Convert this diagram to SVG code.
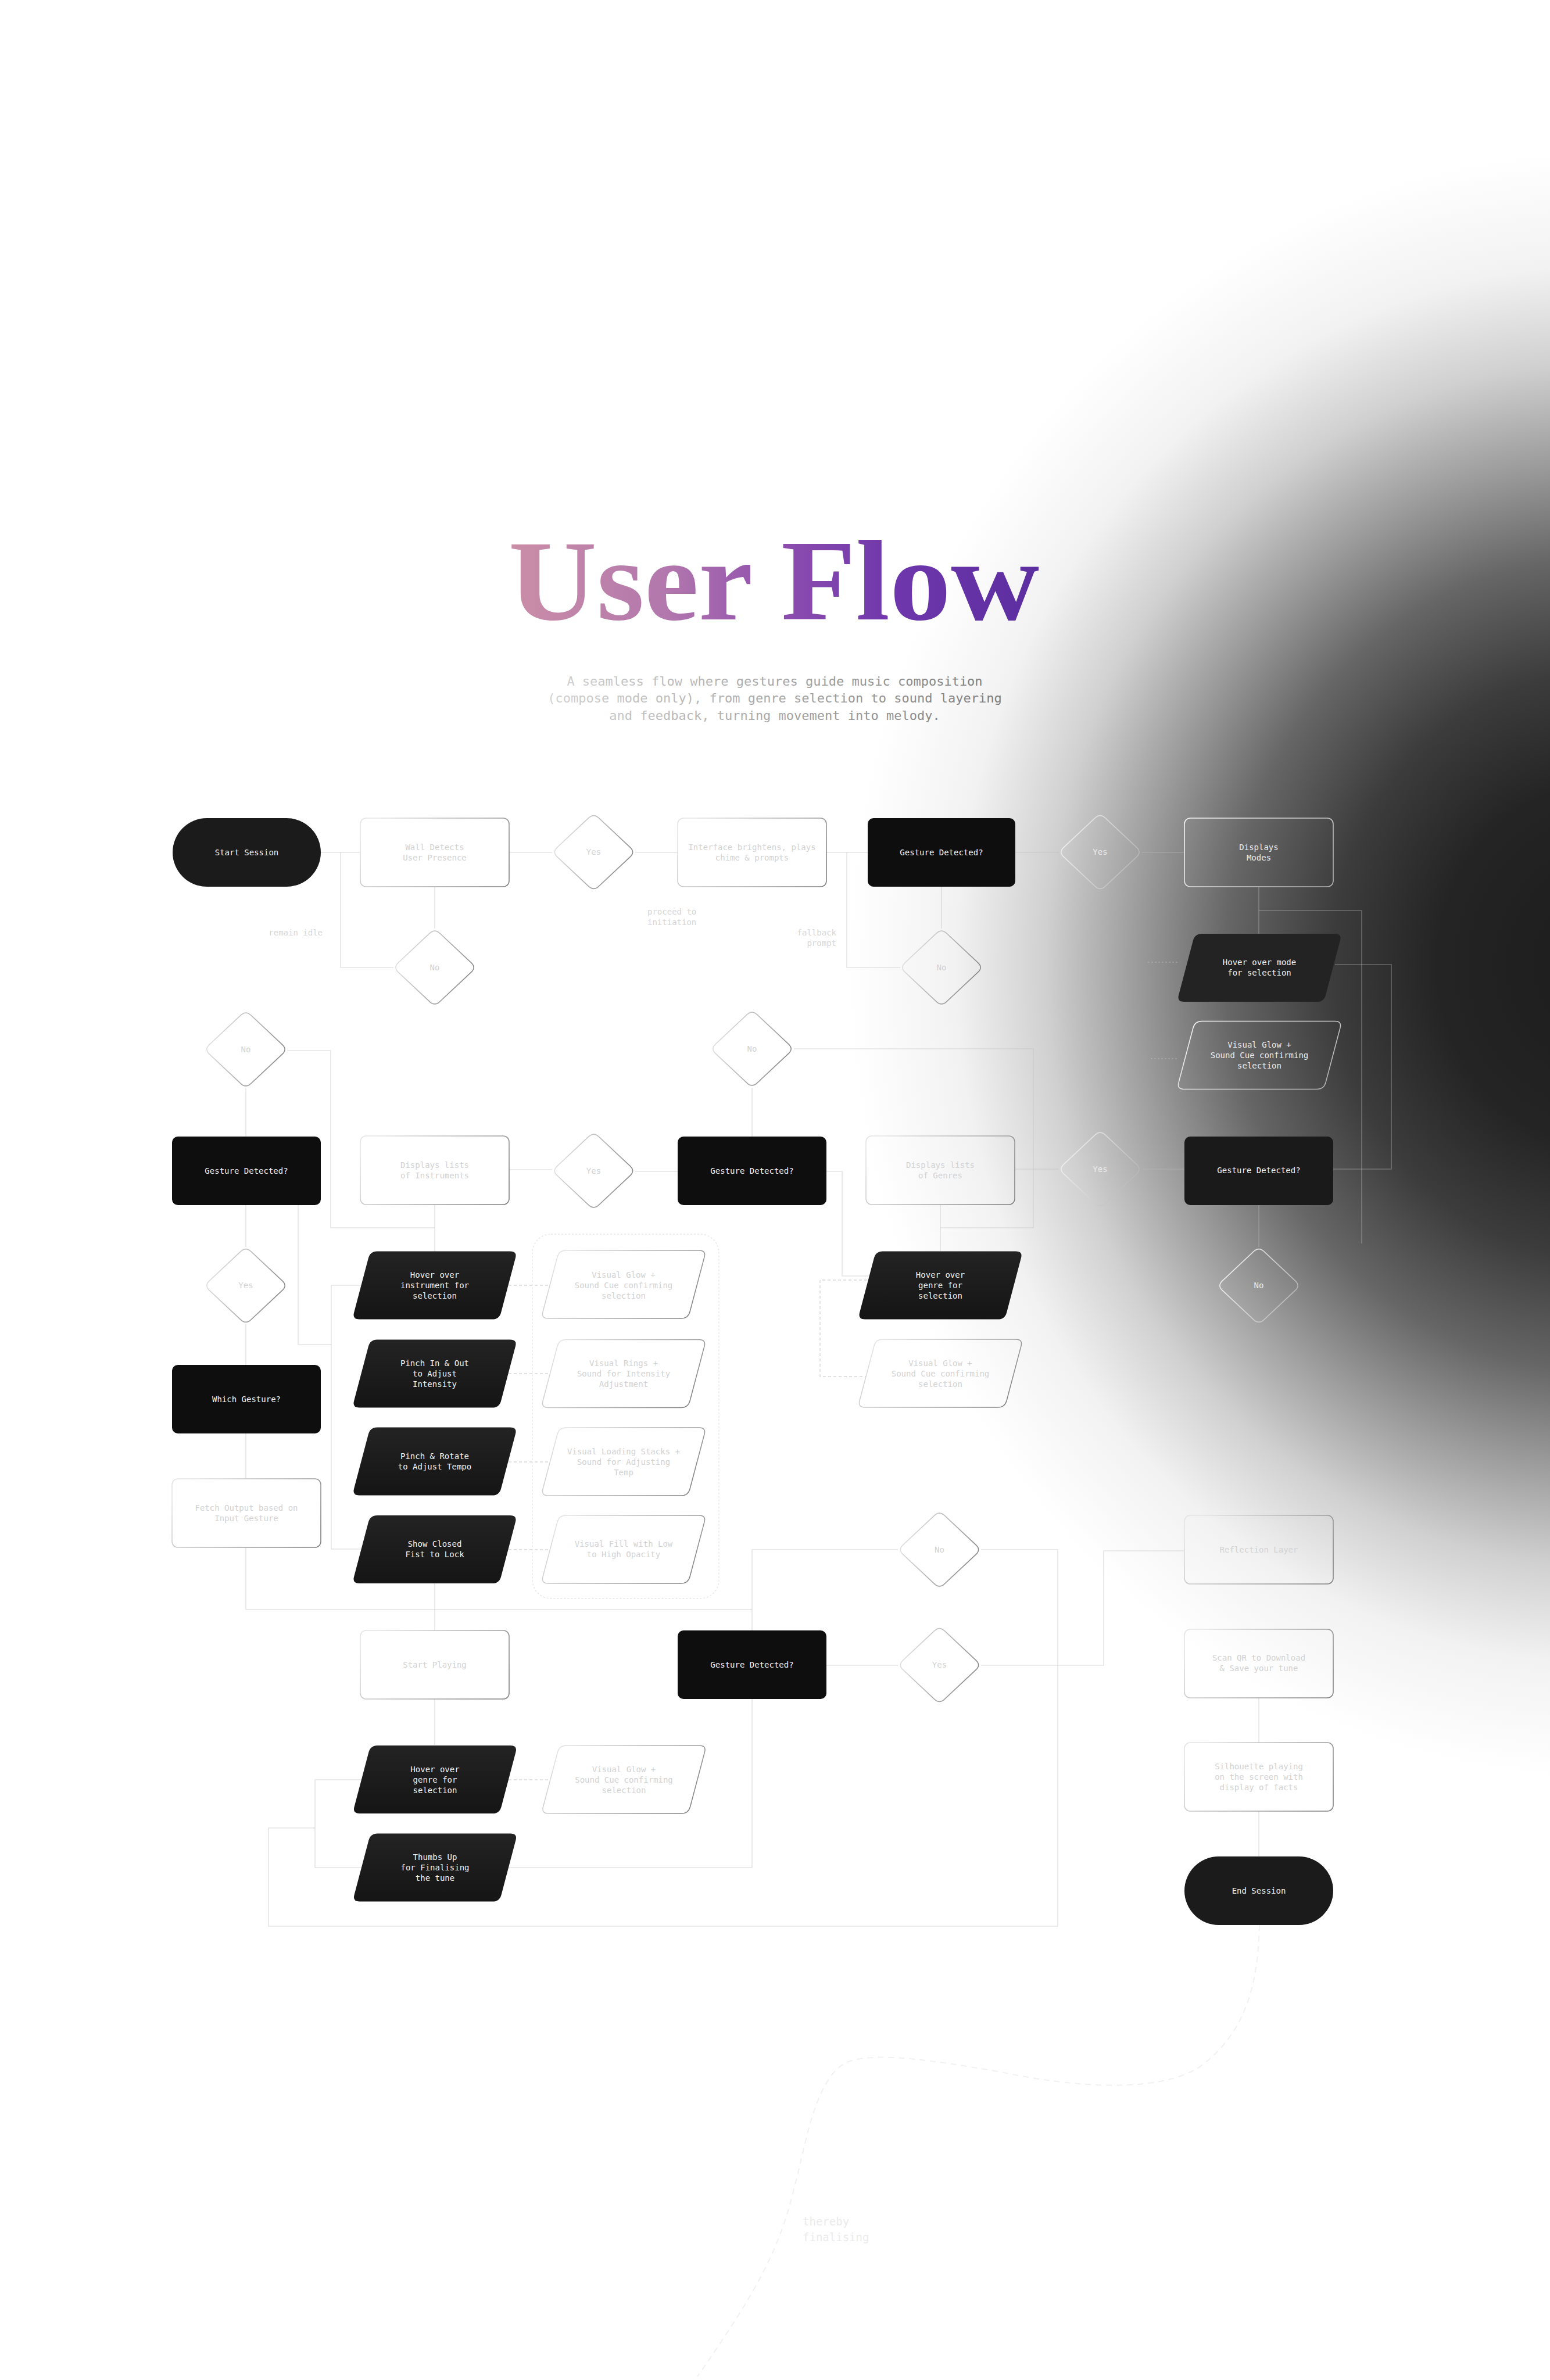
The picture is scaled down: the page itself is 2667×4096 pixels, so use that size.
<svg xmlns="http://www.w3.org/2000/svg" xmlns:xlink="http://www.w3.org/1999/xlink" width="2667" height="4096" viewBox="0 0 2667 4096">
<defs>
<radialGradient id="bgG" gradientUnits="userSpaceOnUse" cx="0" cy="0" r="1" gradientTransform="translate(2760 1660) scale(1300 1400)">
<stop offset="0" stop-color="#1c1c1c"/>
<stop offset="0.22" stop-color="#242424"/>
<stop offset="0.36" stop-color="#3c3c3c"/>
<stop offset="0.5" stop-color="#666666"/>
<stop offset="0.62" stop-color="#9c9c9c"/>
<stop offset="0.74" stop-color="#d0d0d0"/>
<stop offset="0.86" stop-color="#f2f2f2"/>
<stop offset="1" stop-color="#ffffff"/>
</radialGradient>
<linearGradient id="titleG" gradientUnits="userSpaceOnUse" x1="875" y1="0" x2="1790" y2="0">
<stop offset="0" stop-color="#cb8ea7"/>
<stop offset="0.3" stop-color="#b277ad"/>
<stop offset="0.5" stop-color="#8f4fae"/>
<stop offset="0.72" stop-color="#6f37ac"/>
<stop offset="1" stop-color="#5b2ea0"/>
</linearGradient>
<linearGradient id="subG" gradientUnits="userSpaceOnUse" x1="930" y1="1160" x2="1730" y2="1240">
<stop offset="0" stop-color="#d4d4d4"/>
<stop offset="1" stop-color="#7a7a7a"/>
</linearGradient>
<linearGradient id="strokeL" x1="0" y1="0.3" x2="1" y2="0.7">
<stop offset="0" stop-color="#e4e4e4"/>
<stop offset="1" stop-color="#828282"/>
</linearGradient>
<linearGradient id="strokeG" x1="0" y1="0.3" x2="1" y2="0.7">
<stop offset="0" stop-color="#f2f2f2"/>
<stop offset="1" stop-color="#b4b4b4"/>
</linearGradient>
<linearGradient id="paraG" x1="0" y1="0" x2="0" y2="1">
<stop offset="0" stop-color="#232323"/>
<stop offset="1" stop-color="#151515"/>
</linearGradient>
<path id="dia" d="M-8.7,-58.8 Q0,-67 8.7,-58.8 L62.8,-8.2 Q71.5,0 62.8,8.2 L8.7,58.8 Q0,67 -8.7,58.8 L-62.8,8.2 Q-71.5,0 -62.8,-8.2 Z"/>
<path id="para" d="M-99,-58.5 L130,-58.5 Q142,-58.5 138.9,-46.9 L114.1,46.9 Q111,58.5 99,58.5 L-130,58.5 Q-142,58.5 -138.9,46.9 L-114.1,-46.9 Q-111,-58.5 -99,-58.5 Z"/>
<style>
.t{font-family:"DejaVu Sans Mono","Liberation Mono",monospace;font-size:14px;text-anchor:middle}
.tw{fill:#f2f2f2}
.tl{fill:#d2d2d2}
.tg{fill:#ececec}
.lab{font-family:"DejaVu Sans Mono","Liberation Mono",monospace;font-size:14px;fill:#d6d6d6}
.c{fill:none;stroke:rgba(188,188,188,0.4);stroke-width:1.6}
.cd{fill:none;stroke:#d8d8d8;stroke-width:1.4;stroke-dasharray:5 4}
.cdd{fill:none;stroke:rgba(200,200,200,0.45);stroke-width:1.4;stroke-dasharray:3 3}
.ol{fill:none;stroke:url(#strokeL);stroke-width:1.6}
.og{fill:none;stroke:url(#strokeG);stroke-width:1.6}
.blk{fill:#0e0e0e}
.pill{fill:#1b1b1b}
.pb{fill:url(#paraG)}
</style>
</defs>

<rect x="0" y="0" width="2667" height="4096" fill="#ffffff"/>
<rect x="0" y="0" width="2667" height="4096" fill="url(#bgG)"/>

<g id="title">
<text x="875" y="1066" font-family="'Liberation Serif','DejaVu Serif',serif" font-weight="700" font-size="198" textLength="913" lengthAdjust="spacingAndGlyphs" fill="url(#titleG)">User Flow</text>
</g>
<g id="subtitle" font-family="'DejaVu Sans Mono','Liberation Mono',monospace" font-size="22" text-anchor="middle" fill="url(#subG)">
<text x="1333" y="1180">A seamless flow where gestures guide music composition</text>
<text x="1333" y="1209">(compose mode only), from genre selection to sound layering</text>
<text x="1333" y="1239">and feedback, turning movement into melody.</text>
</g>

<g id="connectors">
<path class="c" d="M552 1467 H620"/>
<path class="c" d="M586 1467 V1665 H677"/>
<path class="c" d="M748 1527 V1598"/>
<path class="c" d="M876 1467 H950"/>
<path class="c" d="M1093 1467 H1166"/>
<path class="c" d="M1422 1467 H1493"/>
<path class="c" d="M1457 1467 V1665 H1549"/>
<path class="c" d="M1620 1526 V1598"/>
<path class="c" d="M1747 1467 H1822"/>
<path class="c" d="M1965 1467 H2038"/>
<path class="c" d="M2166 1526 V1607"/>
<path class="c" d="M2166 1567 H2343 V2140"/>
<path class="c" d="M2297 1660 H2394 V2012 H2294"/>
<path class="cdd" d="M1975 1656 H2028"/>
<path class="cdd" d="M1980 1822 H2027"/>
<path class="c" d="M494 1808 H569 V2113 H748"/>
<path class="c" d="M423 1873 V1956"/>
<path class="c" d="M748 2073 V2154"/>
<path class="c" d="M876 2013 H950"/>
<path class="c" d="M1093 2016 H1166"/>
<path class="c" d="M1294 1872 V1956"/>
<path class="c" d="M1366 1805 H1778 V2113 H1618"/>
<path class="c" d="M1618 2073 V2153"/>
<path class="c" d="M1422 2016 H1449 V2196 H1496"/>
<path class="c" d="M1747 2012 H1821"/>
<path class="c" d="M1965 2012 H2038"/>
<path class="c" d="M2166 2074 V2146"/>
<path class="c" d="M423 2074 V2146"/>
<path class="c" d="M423 2279 V2349"/>
<path class="c" d="M423 2467 V2545"/>
<path class="c" d="M513 2074 V2314 H570"/>
<path class="c" d="M622 2212 H570 V2666 H622"/>
<path class="c" d="M423 2663 V2770 H1294"/>
<path class="c" d="M1545 2667 H1294 V2806"/>
<path class="c" d="M748 2725 V2806"/>
<path class="c" d="M748 2924 V3003"/>
<path class="c" d="M1422 2866 H1545"/>
<path class="c" d="M1688 2866 H1899 V2669 H2038"/>
<path class="c" d="M1688 2667 H1820 V3315 H462 V3146 H542"/>
<path class="c" d="M1294 2924 V3214 H542 V3063 H622"/>
<path class="c" d="M2166 2921 V3000"/>
<path class="c" d="M2166 3117 V3195"/>
<path class="cd" d="M875 2212 H946"/>
<path class="cd" d="M875 2364 H946"/>
<path class="cd" d="M875 2516 H946"/>
<path class="cd" d="M875 2667 H946"/>
<path class="cd" d="M875 3063 H946"/>
<path class="cd" d="M1492 2203 H1411 V2369 H1490"/>
<rect x="916" y="2124" width="321" height="627" rx="32" fill="none" stroke="#e6e6e6" stroke-width="1.4" stroke-dasharray="3 3"/>
<path d="M2167 3313 C2165 3420 2140 3505 2060 3560 C1990 3600 1860 3595 1717 3565 C1600 3545 1500 3530 1455 3550 C1400 3580 1385 3700 1366 3767 C1340 3880 1290 3960 1200 4090" fill="none" stroke="#f1f1f1" stroke-width="2" stroke-dasharray="10 8"/>
</g>

<g id="labels" class="lab">
<text x="555" y="1610" text-anchor="end">remain idle</text>
<text x="1114" y="1574">proceed to</text>
<text x="1114" y="1592">initiation</text>
<text x="1439" y="1610" text-anchor="end">fallback</text>
<text x="1439" y="1628" text-anchor="end">prompt</text>
<text x="1381" y="3830" font-size="19" fill="#ebebeb">thereby</text>
<text x="1381" y="3857" font-size="19" fill="#ebebeb">finalising</text>
</g>

<g id="n-start"><rect class="pill" x="297" y="1408" width="255" height="118" rx="59"/><text class="t tw" x="424.5" y="1472">Start Session</text></g>
<g id="n-wall"><rect class="ol" x="620" y="1408" width="256" height="118" rx="10"/><text class="t tl" x="748" y="1463">Wall Detects</text><text class="t tl" x="748" y="1481">User Presence</text></g>
<g id="n-yes1"><use href="#dia" class="ol" x="1021.5" y="1466.5"/><text class="t tl" x="1021.5" y="1471">Yes</text></g>
<g id="n-interface"><rect class="ol" x="1166" y="1408" width="256" height="118" rx="10"/><text class="t tl" x="1294" y="1463">Interface brightens, plays</text><text class="t tl" x="1294" y="1481">chime &amp; prompts</text></g>
<g id="n-gd1"><rect class="blk" x="1493" y="1408" width="254" height="118" rx="10"/><text class="t tw" x="1620" y="1472">Gesture Detected?</text></g>
<g id="n-yes2"><use href="#dia" class="og" x="1893" y="1466.5"/><text class="t tg" x="1893" y="1471">Yes</text></g>
<g id="n-modes"><rect class="og" x="2038" y="1408" width="256" height="118" rx="10"/><text class="t tg" x="2166" y="1463">Displays</text><text class="t tg" x="2166" y="1481">Modes</text></g>
<g id="n-no1"><use href="#dia" class="ol" x="748" y="1665"/><text class="t tl" x="748" y="1670">No</text></g>
<g id="n-no2"><use href="#dia" class="ol" x="1620" y="1665"/><text class="t tl" x="1620" y="1670">No</text></g>
<g id="n-hovermode"><use href="#para" x="2167" y="1665.5" fill="#232323"/><text class="t tw" x="2167" y="1661">Hover over mode</text><text class="t tw" x="2167" y="1679">for selection</text></g>
<g id="n-glowmode"><use href="#para" class="og" x="2167" y="1816"/><text class="t tg" x="2167" y="1803">Visual Glow +</text><text class="t tg" x="2167" y="1821">Sound Cue confirming</text><text class="t tg" x="2167" y="1839">selection</text></g>
<g id="n-no3"><use href="#dia" class="ol" x="423" y="1806"/><text class="t tl" x="423" y="1811">No</text></g>
<g id="n-no4"><use href="#dia" class="ol" x="1294" y="1805"/><text class="t tl" x="1294" y="1810">No</text></g>
<g id="n-gd2"><rect class="blk" x="296" y="1956" width="256" height="118" rx="10"/><text class="t tw" x="424" y="2020">Gesture Detected?</text></g>
<g id="n-instruments"><rect class="ol" x="620" y="1955" width="256" height="118" rx="10"/><text class="t tl" x="748" y="2010">Displays lists</text><text class="t tl" x="748" y="2028">of Instruments</text></g>
<g id="n-yes3"><use href="#dia" class="ol" x="1021.5" y="2015"/><text class="t tl" x="1021.5" y="2020">Yes</text></g>
<g id="n-gd3"><rect class="blk" x="1166" y="1956" width="256" height="118" rx="10"/><text class="t tw" x="1294" y="2020">Gesture Detected?</text></g>
<g id="n-genres"><rect class="ol" x="1490" y="1955" width="256" height="118" rx="10"/><text class="t tl" x="1618" y="2010">Displays lists</text><text class="t tl" x="1618" y="2028">of Genres</text></g>
<g id="n-yes4"><use href="#dia" class="og" x="1893" y="2012"/><text class="t tg" x="1893" y="2017">Yes</text></g>
<g id="n-gd4"><rect x="2038" y="1956" width="256" height="118" rx="10" fill="#1a1a1a"/><text class="t tw" x="2166" y="2019">Gesture Detected?</text></g>
<g id="n-yes5"><use href="#dia" class="ol" x="423" y="2212.5"/><text class="t tl" x="423" y="2217">Yes</text></g>
<g id="n-hoverinstr"><use href="#para" class="pb" x="748" y="2212"/><text class="t tw" x="748" y="2199">Hover over</text><text class="t tw" x="748" y="2217">instrument for</text><text class="t tw" x="748" y="2235">selection</text></g>
<g id="n-glowinstr"><use href="#para" class="ol" x="1073" y="2210.5"/><text class="t tl" x="1073" y="2199">Visual Glow +</text><text class="t tl" x="1073" y="2217">Sound Cue confirming</text><text class="t tl" x="1073" y="2235">selection</text></g>
<g id="n-hovergenre"><use href="#para" class="pb" x="1618" y="2212"/><text class="t tw" x="1618" y="2199">Hover over</text><text class="t tw" x="1618" y="2217">genre for</text><text class="t tw" x="1618" y="2235">selection</text></g>
<g id="n-nog"><use href="#dia" class="og" x="2166" y="2212.5"/><text class="t tg" x="2166" y="2217">No</text></g>
<g id="n-which"><rect class="blk" x="296" y="2349" width="256" height="118" rx="10"/><text class="t tw" x="424" y="2413">Which Gesture?</text></g>
<g id="n-pinch"><use href="#para" class="pb" x="748" y="2364"/><text class="t tw" x="748" y="2351">Pinch In &amp; Out</text><text class="t tw" x="748" y="2369">to Adjust</text><text class="t tw" x="748" y="2387">Intensity</text></g>
<g id="n-rings"><use href="#para" class="ol" x="1073" y="2364"/><text class="t tl" x="1073" y="2351">Visual Rings +</text><text class="t tl" x="1073" y="2369">Sound for Intensity</text><text class="t tl" x="1073" y="2387">Adjustment</text></g>
<g id="n-glowgenre"><use href="#para" class="ol" x="1618" y="2363.5"/><text class="t tl" x="1618" y="2351">Visual Glow +</text><text class="t tl" x="1618" y="2369">Sound Cue confirming</text><text class="t tl" x="1618" y="2387">selection</text></g>
<g id="n-fetch"><rect class="ol" x="296" y="2545" width="256" height="118" rx="10"/><text class="t tl" x="424" y="2600">Fetch Output based on</text><text class="t tl" x="424" y="2618">Input Gesture</text></g>
<g id="n-rotate"><use href="#para" class="pb" x="748" y="2515"/><text class="t tw" x="748" y="2511">Pinch &amp; Rotate</text><text class="t tw" x="748" y="2529">to Adjust Tempo</text></g>
<g id="n-loading"><use href="#para" class="ol" x="1073" y="2515.5"/><text class="t tl" x="1073" y="2503">Visual Loading Stacks +</text><text class="t tl" x="1073" y="2521">Sound for Adjusting</text><text class="t tl" x="1073" y="2539">Temp</text></g>
<g id="n-fist"><use href="#para" class="pb" x="748" y="2666.5"/><text class="t tw" x="748" y="2662">Show Closed</text><text class="t tw" x="748" y="2680">Fist to Lock</text></g>
<g id="n-fill"><use href="#para" class="ol" x="1073" y="2666.5"/><text class="t tl" x="1073" y="2662">Visual Fill with Low</text><text class="t tl" x="1073" y="2680">to High Opacity</text></g>
<g id="n-no5"><use href="#dia" class="ol" x="1616.5" y="2667"/><text class="t tl" x="1616.5" y="2672">No</text></g>
<g id="n-reflection"><rect class="ol" x="2038" y="2608" width="256" height="118" rx="10"/><text class="t tl" x="2166" y="2672">Reflection Layer</text></g>
<g id="n-startplaying"><rect class="ol" x="620" y="2806" width="256" height="118" rx="10"/><text class="t tl" x="748" y="2870">Start Playing</text></g>
<g id="n-gd5"><rect class="blk" x="1166" y="2806" width="256" height="118" rx="10"/><text class="t tw" x="1294" y="2870">Gesture Detected?</text></g>
<g id="n-yes6"><use href="#dia" class="ol" x="1616.5" y="2865.5"/><text class="t tl" x="1616.5" y="2870">Yes</text></g>
<g id="n-scan"><rect class="ol" x="2038" y="2804" width="256" height="118" rx="10"/><text class="t tl" x="2166" y="2858">Scan QR to Download</text><text class="t tl" x="2166" y="2876">&amp; Save your tune</text></g>
<g id="n-hovergenre2"><use href="#para" class="pb" x="748.5" y="3062.5"/><text class="t tw" x="748.5" y="3050">Hover over</text><text class="t tw" x="748.5" y="3068">genre for</text><text class="t tw" x="748.5" y="3086">selection</text></g>
<g id="n-glow2"><use href="#para" class="ol" x="1073.5" y="3062.5"/><text class="t tl" x="1073.5" y="3050">Visual Glow +</text><text class="t tl" x="1073.5" y="3068">Sound Cue confirming</text><text class="t tl" x="1073.5" y="3086">selection</text></g>
<g id="n-silhouette"><rect class="ol" x="2038" y="2999" width="256" height="118" rx="10"/><text class="t tl" x="2166" y="3045">Silhouette playing</text><text class="t tl" x="2166" y="3063">on the screen with</text><text class="t tl" x="2166" y="3081">display of facts</text></g>
<g id="n-thumbs"><use href="#para" class="pb" x="748.5" y="3214"/><text class="t tw" x="748.5" y="3201">Thumbs Up</text><text class="t tw" x="748.5" y="3219">for Finalising</text><text class="t tw" x="748.5" y="3237">the tune</text></g>
<g id="n-end"><rect class="pill" x="2038" y="3195" width="256" height="118" rx="59"/><text class="t tw" x="2166" y="3259">End Session</text></g>
</svg>
